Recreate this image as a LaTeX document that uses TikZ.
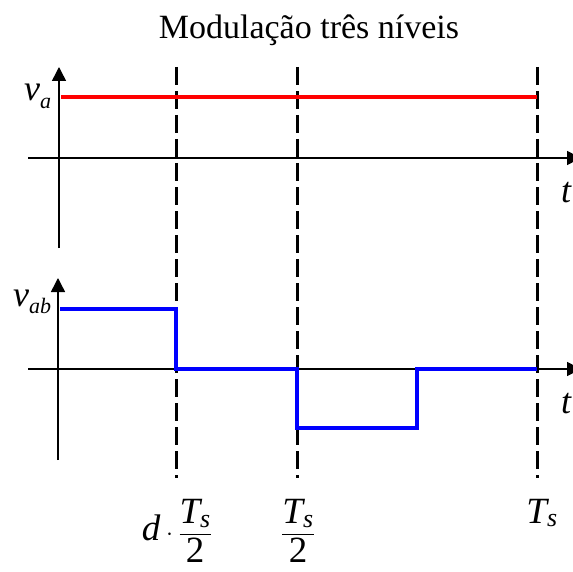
\documentclass[tikz,border=0pt]{standalone}
\usepackage{fontspec}
\usepackage{amsmath}
\setmainfont{Liberation Serif}
\usetikzlibrary{arrows.meta}
\begin{document}
\begin{tikzpicture}[x=1pt,y=-1pt,
  axis/.style={line width=1.5pt,-{Triangle[length=14pt,width=14pt]}},
  guide/.style={line width=3pt,dash pattern=on 18pt off 6pt},
  lbl/.style={font=\fontsize{36}{38}\selectfont\itshape,inner sep=0pt,anchor=base west},
  tlbl/.style={font=\fontsize{34}{36}\selectfont,inner sep=0pt},
  flbl/.style={font=\fontsize{37}{39}\selectfont,inner sep=0pt},
  sig/.style={line width=4pt}]
\useasboundingbox (0,0) rectangle (572,572);
\node[tlbl,anchor=base] (title) at (309,39) {Modulação três níveis};
% guides
\coordinate (g1t) at (176,67); \coordinate (g1b) at (176,478);
\coordinate (g2t) at (297,67); \coordinate (g2b) at (297,478);
\coordinate (g3t) at (537,67); \coordinate (g3b) at (537,478);
\draw[guide] (g1t) -- (g1b);
\draw[guide] (g2t) -- (g2b);
\draw[guide] (g3t) -- (g3b);
% top axes
\coordinate (a1s) at (59,248); \coordinate (a1e) at (59,67);
\coordinate (h1s) at (28,158); \coordinate (h1e) at (581,158);
\draw[axis] (a1s) -- (a1e);
\draw[axis] (h1s) -- (h1e);
\node[lbl] (va) at (24,101) {v\raisebox{-0.2em}{\fontsize{22}{24}\selectfont a}};
\node[lbl] (t1) at (561,202) {t};
% red
\coordinate (r1) at (61,97); \coordinate (r2) at (537,97);
\draw[red,line width=3.5pt] (r1) -- (r2);
% bottom axes
\coordinate (a2s) at (58,460); \coordinate (a2e) at (58,278);
\coordinate (h2s) at (28,369); \coordinate (h2e) at (581,369);
\draw[axis] (a2s) -- (a2e);
\draw[axis] (h2s) -- (h2e);
\node[lbl] (vab) at (13,306) {v\raisebox{-0.2em}{\fontsize{22}{24}\selectfont ab}};
\node[lbl] (t2) at (561,413) {t};
% blue
\coordinate (b0) at (60,309);
\coordinate (b1) at (176,309);
\coordinate (b2) at (176,369);
\coordinate (b3) at (297,369);
\coordinate (b4) at (297,428);
\coordinate (b5) at (417,428);
\coordinate (b6) at (417,369);
\coordinate (b7) at (537,369);
\draw[blue,sig] (b0) -- (b1) -- (b2) -- (b3) -- (b4) -- (b5) -- (b6) -- (b7);
% bottom labels
\node[flbl] (l1) at (177,531) {$\textit{d}\cdot\dfrac{\textit{T}_{\textit{s}}}{\text{2}}$};
\node[flbl] (l2) at (298,531) {$\dfrac{\textit{T}_{\textit{s}}}{\text{2}}$};
\node[flbl,anchor=base] (l3) at (542,523) {$\textit{T}_{\textit{s}}$};
\end{tikzpicture}
\end{document}
